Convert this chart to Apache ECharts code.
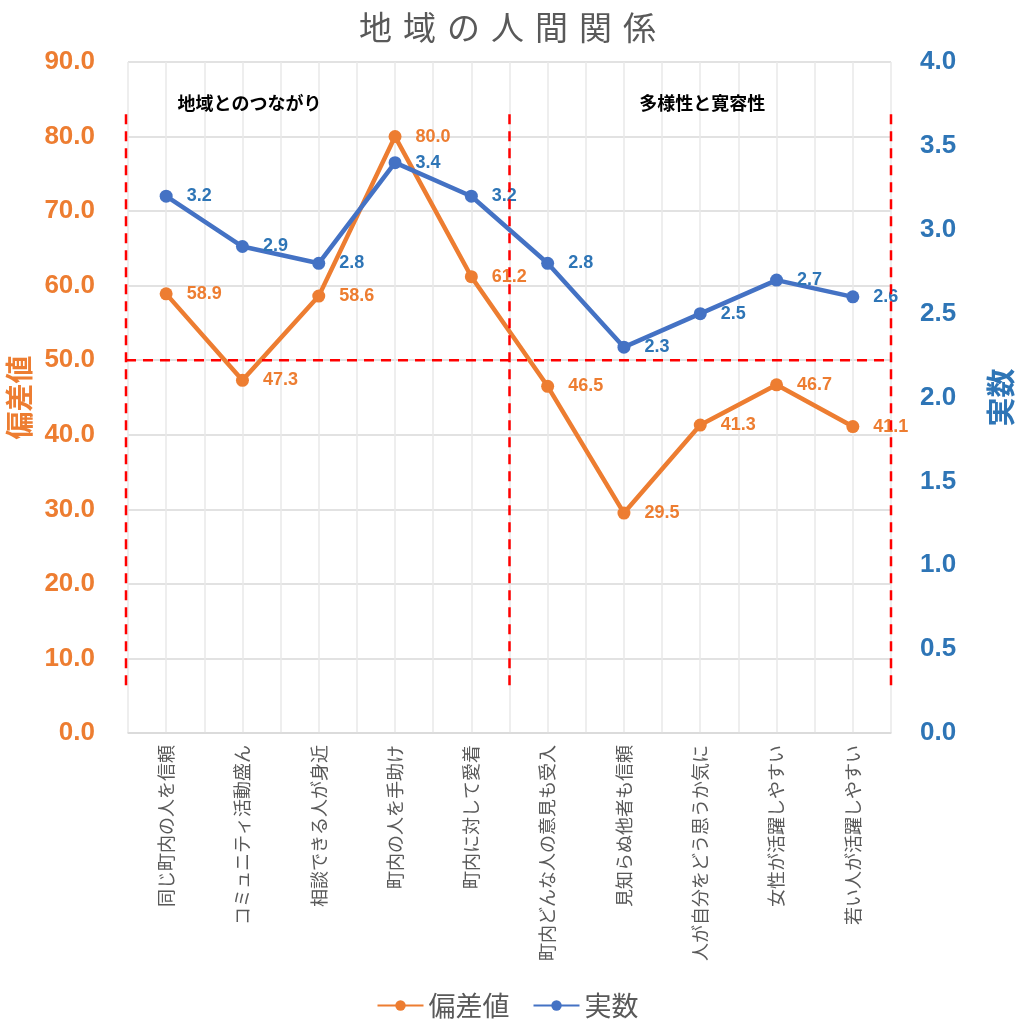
<!DOCTYPE html>
<html><head><meta charset="utf-8">
<script src="https://cdn.jsdelivr.net/npm/echarts@6/dist/echarts.min.js"></script>
<style>html,body{margin:0;padding:0;background:#fff;overflow:hidden}#c{width:1015px;height:1024px}</style>
</head><body><div id="c"></div>
<script>
const categories = ['同じ町内の人を信頼','コミュニティ活動盛ん','相談できる人が身近','町内の人を手助け','町内に対して愛着','町内どんな人の意見も受入','見知らぬ他者も信頼','人が自分をどう思うか気に','女性が活躍しやすい','若い人が活躍しやすい'];
const hensachi = [58.9, 47.3, 58.6, 80.0, 61.2, 46.5, 29.5, 41.3, 46.7, 41.1];
const jissu = [3.2, 2.9, 2.8, 3.4, 3.2, 2.8, 2.3, 2.5, 2.7, 2.6];
const groupLabels = ['地域とのつながり', '多様性と寛容性'];
const titleText = '地域の人間関係';
const halfCats = Array.from({length: categories.length * 2}, (_, i) => String(i));

const ORANGE = '#ED7D31', BLUE = '#4472C4', BLUE_T = '#2E75B6', GRAY = '#595959';
const NUMF = "'Liberation Sans','Noto Sans CJK JP',sans-serif";
const JPF = "'Noto Sans CJK JP',sans-serif";

const chart = echarts.init(document.getElementById('c'));
chart.setOption({
  animation: false,
  backgroundColor: '#fff',
  title: {text: titleText.split('').join('\u2004'), left: 'center', top: 6,
    textStyle: {fontFamily: JPF, fontSize: 33, fontWeight: 'normal', color: GRAY}},
  legend: {bottom: 0, left: 'center', itemWidth: 46, itemHeight: 13, itemGap: 23,
    textStyle: {fontFamily: JPF, fontSize: 27, color: GRAY},
    data: ['偏差値', '実数']},
  grid: {left: 128, right: 124, top: 62, bottom: 291, containLabel: false, outerBoundsMode: 'none'},
  xAxis: [
    {type: 'category', data: categories, boundaryGap: true,
     axisLine: {lineStyle: {color: '#d9d9d9', width: 1.5}}, axisTick: {show: false},
     axisLabel: {rotate: 90, fontFamily: JPF, fontSize: 18, color: GRAY, margin: 12, interval: 0},
     splitLine: {show: false}},
    {type: 'category', data: halfCats, boundaryGap: true, position: 'bottom',
     axisLine: {show: false}, axisTick: {show: false}, axisLabel: {show: false},
     splitLine: {show: true, lineStyle: {color: '#e8e8e8', width: 1.5}}}
  ],
  yAxis: [
    {type: 'value', min: 0, max: 90, interval: 10, name: '偏差値', nameLocation: 'middle', nameGap: 86,
     nameTextStyle: {fontFamily: JPF, fontSize: 28, fontWeight: 'bold', color: ORANGE},
     axisLine: {show: false}, axisTick: {show: false},
     axisLabel: {formatter: v => v.toFixed(1), fontFamily: NUMF, fontSize: 26, fontWeight: 'bold', color: ORANGE, margin: 33},
     splitLine: {lineStyle: {color: '#d9d9d9', width: 1.5}}},
    {type: 'value', min: 0, max: 4, interval: 0.5, name: '実数', nameLocation: 'middle', nameGap: 95,
     nameRotate: 90,
     nameTextStyle: {fontFamily: JPF, fontSize: 29, fontWeight: 'bold', color: BLUE_T},
     axisLine: {show: false}, axisTick: {show: false},
     axisLabel: {formatter: v => v.toFixed(1), fontFamily: NUMF, fontSize: 26, fontWeight: 'bold', color: BLUE_T, margin: 29},
     splitLine: {show: false}}
  ],
  series: [
    {name: '偏差値', type: 'line', data: hensachi, yAxisIndex: 0, xAxisIndex: 0,
     symbol: 'circle', symbolSize: 13, color: ORANGE, lineStyle: {width: 4.5, color: ORANGE},
     label: {show: true, position: 'right', distance: 14, formatter: p => p.value.toFixed(1),
       fontFamily: NUMF, fontSize: 18, fontWeight: 'bold', color: ORANGE}, z: 3},
    {name: '実数', type: 'line', data: jissu, yAxisIndex: 1, xAxisIndex: 0,
     symbol: 'circle', symbolSize: 13, color: BLUE, lineStyle: {width: 4.5, color: BLUE},
     label: {show: true, position: 'right', distance: 14, formatter: p => p.value.toFixed(1),
       fontFamily: NUMF, fontSize: 18, fontWeight: 'bold', color: BLUE_T}, z: 4}
  ]
});

// Decorations computed from axes
const px = (i, v) => chart.convertToPixel({xAxisIndex: 0, yAxisIndex: 0}, [i, v]);
const p0 = px(0, 0), p1 = px(1, 0);
const step = p1[0] - p0[0];
const xLeft = p0[0] - step / 2 - 2;
const xMid = px(4, 0)[0] + step / 2;
const xRight = px(9, 0)[0] + step / 2;
const yTop = px(0, 83)[1], yBot = px(0, 6)[1], y50 = px(0, 50)[1];
const dash = {stroke: '#FF0000', lineWidth: 2.5, lineDash: [10, 7]};
const yLab = px(0, 84.5)[1];
chart.setOption({graphic: [
  {type: 'line', shape: {x1: xLeft, y1: yTop, x2: xLeft, y2: yBot}, style: dash, z: 10},
  {type: 'line', shape: {x1: xMid, y1: yTop, x2: xMid, y2: yBot}, style: dash, z: 10},
  {type: 'line', shape: {x1: xRight, y1: yTop, x2: xRight, y2: yBot}, style: dash, z: 10},
  {type: 'line', shape: {x1: xLeft, y1: y50, x2: xRight, y2: y50}, style: dash, z: 10},
  {type: 'text', x: (px(1,0)[0] + 7), y: yLab, style: {text: groupLabels[0], fontFamily: JPF, fontSize: 18, fontWeight: 'bold', fill: '#000', align: 'center', verticalAlign: 'middle'}, z: 10},
  {type: 'text', x: px(7,0)[0] + 2, y: yLab, style: {text: groupLabels[1], fontFamily: JPF, fontSize: 18, fontWeight: 'bold', fill: '#000', align: 'center', verticalAlign: 'middle'}, z: 10}
]});
</script></body></html>
